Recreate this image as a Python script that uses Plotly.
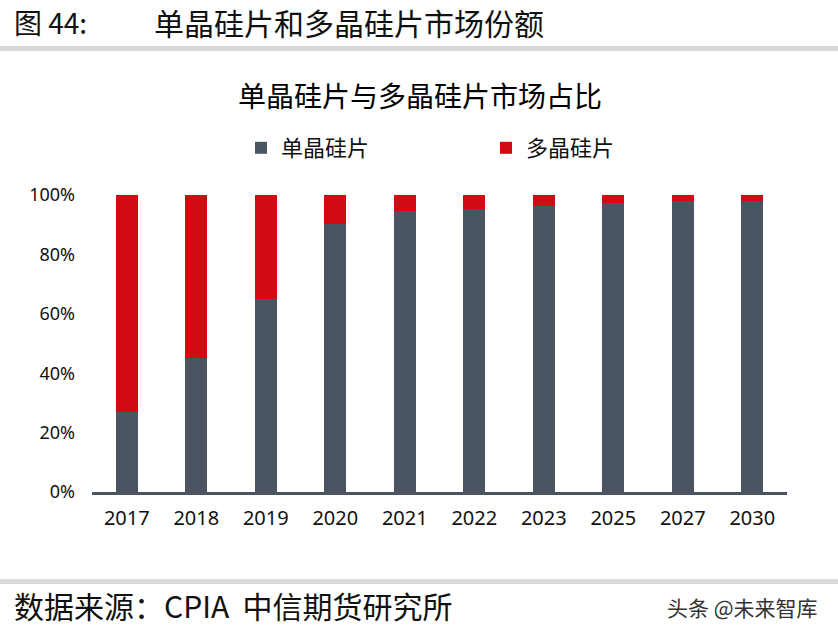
import plotly.graph_objects as go

years = ["2017", "2018", "2019", "2020", "2021", "2022", "2023", "2025", "2027", "2030"]
mono_share = [27.0, 45.0, 65.0, 90.1, 94.5, 95.2, 96.3, 97.2, 98.0, 98.0]
multi_share = [round(100 - v, 1) for v in mono_share]
series_names = ["单晶硅片", "多晶硅片"]
y_ticks = [0, 20, 40, 60, 80, 100]
y_tick_text = ["0%", "20%", "40%", "60%", "80%", "100%"]

GRAY = "#4b5562"
RED = "#d20a11"
CJK = "Noto Sans CJK SC"

W, H = 838, 641
L, R, T, B = 92, 787, 195, 492
pw, ph = R - L, B - T

def px(x):
    return (x - L) / pw

def py(y):
    return (B - y) / ph

fig = go.Figure()
fig.add_trace(go.Bar(x=years, y=mono_share, name=series_names[0], marker=dict(color=GRAY, line=dict(width=0))))
fig.add_trace(go.Bar(x=years, y=multi_share, name=series_names[1], marker=dict(color=RED, line=dict(width=0))))

fig.update_layout(
    width=W, height=H,
    margin=dict(l=L, r=W - R, t=T, b=H - B, pad=0),
    barmode="stack",
    bargap=0.68,
    plot_bgcolor="white",
    paper_bgcolor="white",
    showlegend=True,
    legend=dict(
        orientation="h", x=px(486), xanchor="center", y=py(148), yanchor="middle",
        font=dict(family=CJK, size=22, color="#111111"),
        entrywidth=200, itemwidth=30, traceorder="normal",
        bgcolor="rgba(0,0,0,0)",
    ),
    xaxis=dict(
        type="category", showline=True, linecolor=GRAY, linewidth=3,
        showgrid=False, ticks="", ticklabelstandoff=6,
        tickfont=dict(family="Noto Sans", size=20, color="#111111"),
    ),
    yaxis=dict(
        range=[0, 100], tickvals=y_ticks, ticktext=y_tick_text,
        showgrid=False, showline=False, zeroline=False, ticks="",
        ticklabelstandoff=16,
        tickfont=dict(family="Noto Sans", size=18, color="#111111"),
    ),
    hovermode=False,
)

annotations = [
    dict(text="图 44:", x=px(12), y=py(22), xanchor="left", yanchor="middle",
         font=dict(family=CJK, size=28, color="#111111")),
    dict(text="单晶硅片和多晶硅片市场份额", x=px(152), y=py(22), xanchor="left", yanchor="middle",
         font=dict(family=CJK, size=30, color="#111111")),
    dict(text="单晶硅片与多晶硅片市场占比", x=px(420), y=py(95), xanchor="center", yanchor="middle",
         font=dict(family=CJK, size=28, color="#000000")),
    dict(text="数据来源：CPIA  中信期货研究所", x=px(12), y=py(605), xanchor="left", yanchor="middle",
         font=dict(family=CJK, size=30, color="#111111")),
    dict(text="头条 @未来智库", x=px(820), y=py(607), xanchor="right", yanchor="middle",
         font=dict(family=CJK, size=21, color="#333333")),
]
for a in annotations:
    a.update(xref="paper", yref="paper", showarrow=False)
fig.update_layout(annotations=annotations)

fig.add_shape(type="rect", xref="paper", yref="paper", x0=px(0), x1=px(W), y0=py(51), y1=py(46),
              fillcolor="#d9d9d9", line=dict(width=0), layer="below")
fig.add_shape(type="rect", xref="paper", yref="paper", x0=px(0), x1=px(W), y0=py(584), y1=py(579),
              fillcolor="#d9d9d9", line=dict(width=0), layer="below")

fig.write_html("out.html", config={"displayModeBar": False},
               post_script="document.body.style.margin='0';document.body.style.overflow='hidden';")
